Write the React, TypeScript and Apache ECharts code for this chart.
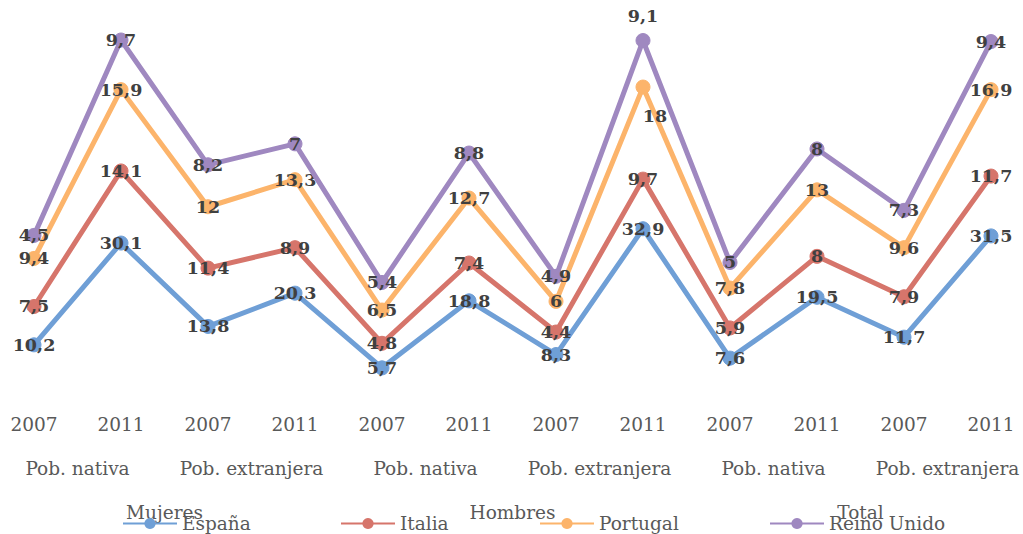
import React, { useEffect, useRef } from "react";
import * as echarts from "echarts";

const years = ["2007", "2011", "2007", "2011", "2007", "2011", "2007", "2011", "2007", "2011", "2007", "2011"];
const groups = ["Pob. nativa", "Pob. extranjera", "Pob. nativa", "Pob. extranjera", "Pob. nativa", "Pob. extranjera"];
const topGroups = ["Mujeres", "Hombres", "Total"];

const espana = [10.2, 30.1, 13.8, 20.3, 5.7, 18.8, 8.3, 32.9, 7.6, 19.5, 11.7, 31.5];
const italia = [7.5, 14.1, 11.4, 8.9, 4.8, 7.4, 4.4, 9.7, 5.9, 8, 7.9, 11.7];
const portugal = [9.4, 15.9, 12, 13.3, 6.5, 12.7, 6, 18, 7.8, 13, 9.6, 16.9];
const reinoUnido = [4.5, 9.7, 8.2, 7, 5.4, 8.8, 4.9, 9.1, 5, 8, 7.3, 9.4];

const seriesNames = ["España", "Italia", "Portugal", "Reino Unido"];
const seriesData = [espana, italia, portugal, reinoUnido];
const colors = ["#6f9fd6", "#d6756b", "#fcb46b", "#9f88c0"];

const FONT = "'DejaVu Serif', 'Liberation Serif', serif";

export default function App() {
  const ref = useRef<HTMLDivElement>(null);
  useEffect(() => {
    document.body.style.margin = "0";
    const chart = echarts.init(ref.current!, null, { renderer: "svg" });
    const legendLefts = [117, 335, 534, 764];
    const option: any = {
      animation: false,
      grid: { left: 34, right: 32, top: 39, bottom: 137, containLabel: false },
      xAxis: {
        type: "category",
        data: years,
        boundaryGap: false,
        axisLine: { show: false },
        axisTick: { show: false },
        axisLabel: { margin: 18, color: "#595959", fontFamily: FONT, fontSize: 18.5 },
      },
      yAxis: { type: "value", min: 0, max: 70, show: false },
      legend: seriesNames.map((n, i) => ({
        data: [n],
        left: legendLefts[i],
        top: 509,
        itemWidth: 54,
        itemHeight: 14,
        itemGap: 4,
        textStyle: { color: "#595959", fontFamily: FONT, fontSize: 18.5 },
      })),
      series: seriesData.map((d, i) => ({
        name: seriesNames[i],
        type: "line",
        stack: "total",
        data: d.map((v, j) => {
          const item: any = { value: v };
          if (i === 3 && j === 7) item.label = { position: "top", distance: 8 };
          if (i === 2 && j === 7) item.label = { position: "inside", offset: [12, 29] };
          return item;
        }),
        symbol: "circle",
        symbolSize: 14,
        lineStyle: { width: 5, color: colors[i] },
        itemStyle: { color: colors[i], borderColor: colors[i] },
        label: {
          show: true,
          position: "inside",
          color: "#404040",
          fontFamily: FONT,
          fontWeight: "bold",
          fontSize: 17.5,
          formatter: (p: any) => String(p.value).replace(".", ","),
        },
        z: 2 + i,
      })),
    };
    chart.setOption(option);
    const px = (i: number) => chart.convertToPixel({ xAxisIndex: 0 }, i) as number;
    const textStyle = { fill: "#595959", font: `18.5px ${FONT}`, align: "center", verticalAlign: "middle" };
    const graphic: any[] = [];
    groups.forEach((g, k) => {
      graphic.push({ type: "text", x: (px(2 * k) + px(2 * k + 1)) / 2, y: 468, style: { ...textStyle, text: g } });
    });
    topGroups.forEach((g, k) => {
      graphic.push({ type: "text", x: (px(4 * k) + px(4 * k + 3)) / 2, y: 512, style: { ...textStyle, text: g } });
    });
    chart.setOption({ graphic });
    return () => chart.dispose();
  }, []);
  return <div ref={ref} style={{ width: 1023, height: 534 }} />;
}
